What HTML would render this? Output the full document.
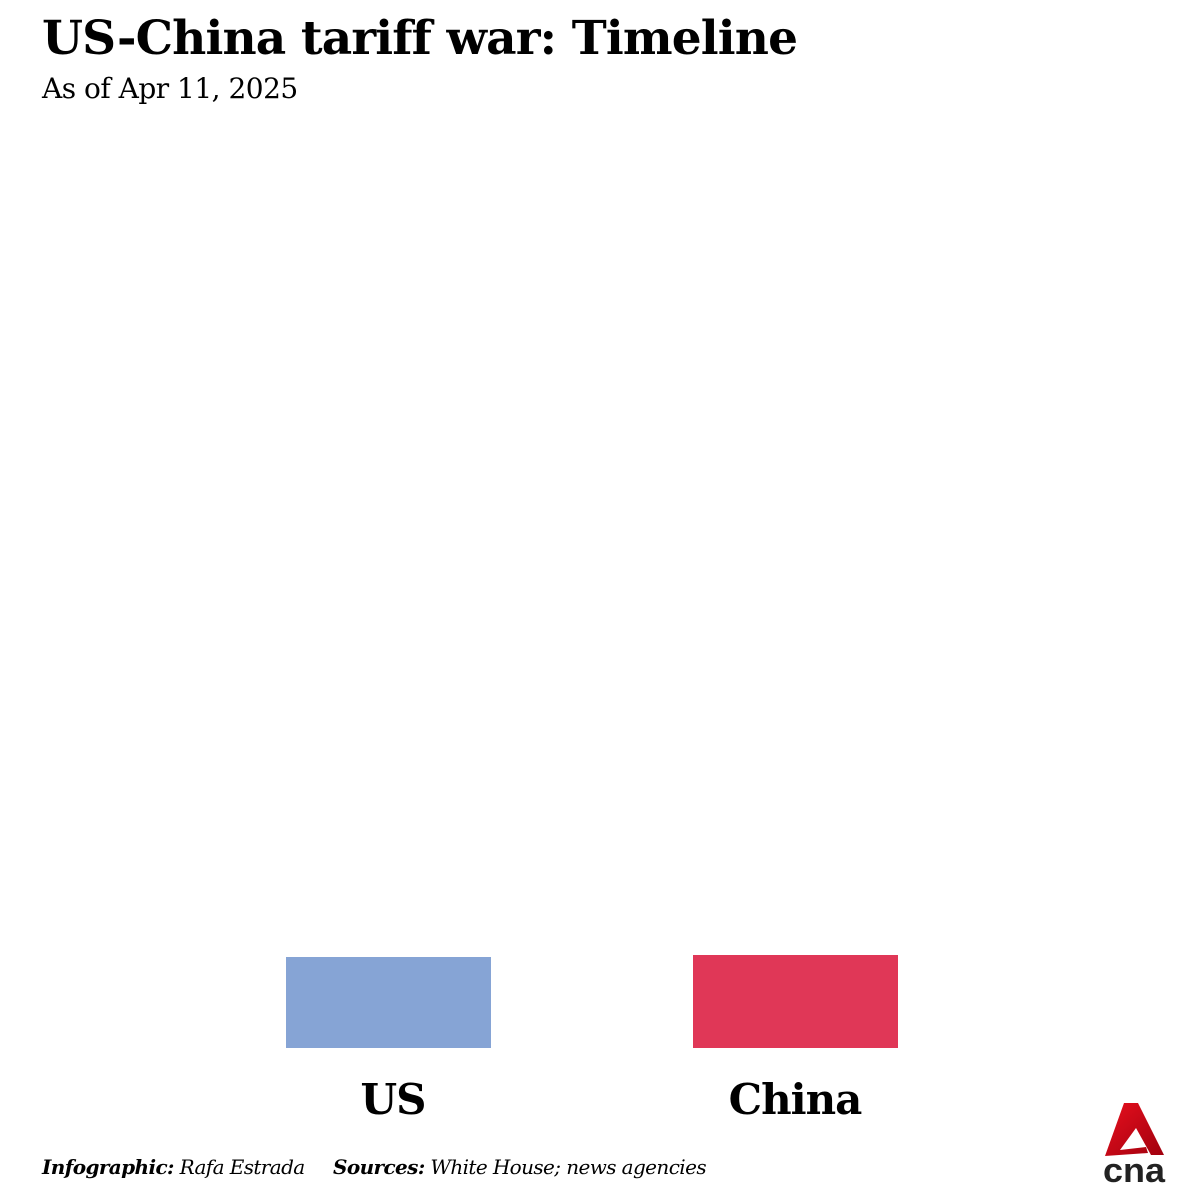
<!DOCTYPE html>
<html><head><meta charset="utf-8"><style>
html,body{margin:0;padding:0;background:#fff;}
body{width:1200px;height:1200px;position:relative;overflow:hidden;font-family:"DejaVu Serif","Liberation Serif",serif;color:#000;}
.t{position:absolute;white-space:nowrap;}
</style></head><body>
<div class="t" style="left:42px;top:11px;font-size:47px;font-weight:bold;letter-spacing:-0.85px;">US-China tariff war: Timeline</div>
<div class="t" style="left:42px;top:72px;font-size:28px;letter-spacing:-0.5px;">As of Apr 11, 2025</div>
<div style="position:absolute;left:286px;top:957px;width:205px;height:91px;background:#86a4d5;"></div>
<div style="position:absolute;left:693px;top:955px;width:205px;height:93px;background:#e03757;"></div>
<div class="t" style="left:288px;width:210px;text-align:center;top:1075px;font-size:42px;font-weight:bold;letter-spacing:-1px;">US</div>
<div class="t" style="left:690px;width:210px;text-align:center;top:1075px;font-size:42px;font-weight:bold;letter-spacing:-1px;">China</div>
<div class="t" style="left:42px;top:1155px;font-size:20px;font-style:italic;letter-spacing:-0.6px;"><b>Infographic:</b> Rafa Estrada</div>
<div class="t" style="left:333px;top:1155px;font-size:20px;font-style:italic;letter-spacing:-0.6px;"><b>Sources:</b> White House; news agencies</div>
<svg style="position:absolute;left:1098px;top:1100px" width="72" height="85" viewBox="0 0 72 85">
<defs><linearGradient id="g" x1="0" y1="0" x2="1" y2="1"><stop offset="0" stop-color="#e8101e"/><stop offset="1" stop-color="#a0000e"/></linearGradient></defs>
<polygon points="26,3 40,3 66,55 53,55 38,28 22,50 48,47 50,53 7,56" fill="url(#g)"/>
<text x="36" y="82" text-anchor="middle" font-family="Liberation Sans,sans-serif" font-weight="bold" font-size="34" fill="#222" textLength="62" lengthAdjust="spacingAndGlyphs">cna</text>
</svg>
</body></html>
